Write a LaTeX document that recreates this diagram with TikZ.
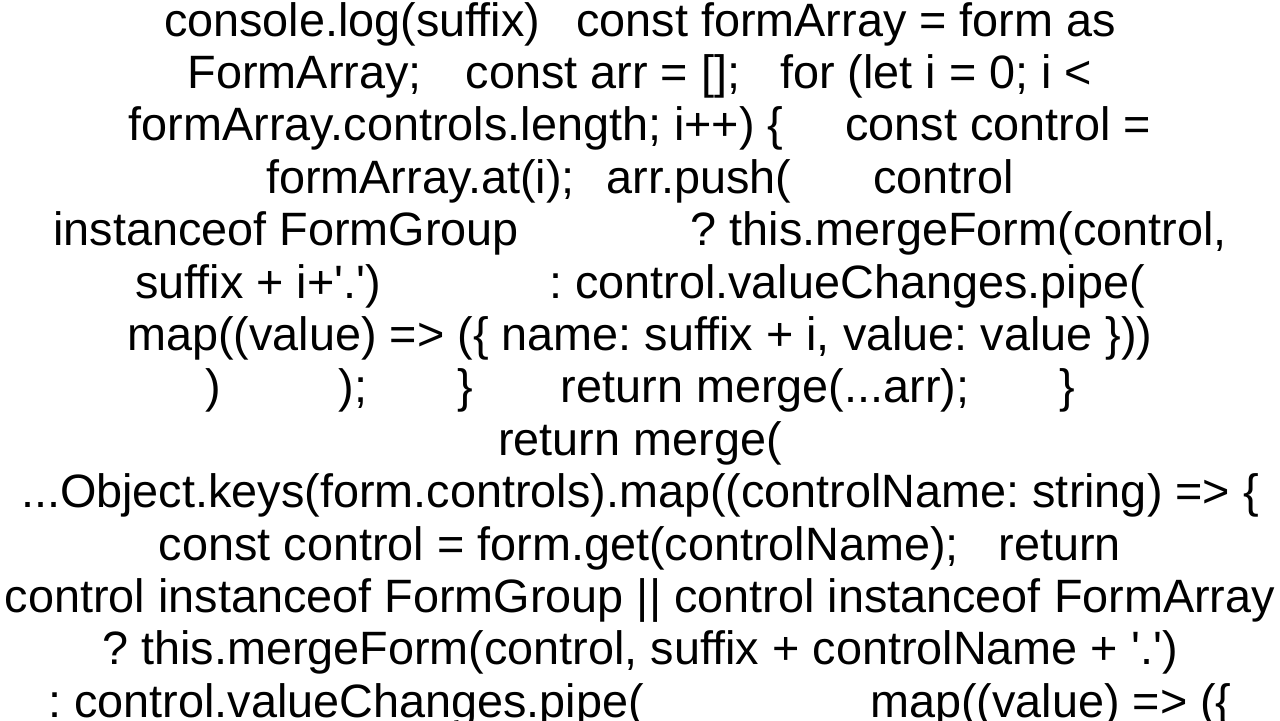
\documentclass[tikz,border=0pt]{standalone}
\usepackage{fontspec}
\setmainfont{Liberation Sans}
\usetikzlibrary{positioning}
\frenchspacing
\newcommand{\gap}[1]{\hspace*{#1pt}}
\newcommand{\q}{\textquotesingle}
\tikzset{
  codeline/.style={anchor=base, inner sep=0pt, font=\fontsize{23.4}{28}\selectfont},
}
\begin{document}
\begin{tikzpicture}
\useasboundingbox (0,0) rectangle (640pt,-360pt);
\node (l1) [codeline] at (320pt,-18pt) {console.log(suffix)\gap{18}const formArray = form as};
\node (l2) [codeline, below=26.2pt of l1.base, anchor=base] {FormArray;\gap{22}const arr = [];\gap{20}for (let i = 0; i <};
\node (l3) [codeline, below=26.2pt of l2.base, anchor=base] {formArray.controls.length; i++) \{\gap{31}const control =};
\node (l4) [codeline, below=26.2pt of l3.base, anchor=base] {formArray.at(i);\gap{16}arr.push(\gap{41}control};
\node (l5) [codeline, below=26.2pt of l4.base, anchor=base] {instanceof FormGroup\gap{86}? this.mergeForm(control,};
\node (l6) [codeline, below=26.2pt of l5.base, anchor=base] {suffix + i+\q.\q)\gap{84}: control.valueChanges.pipe(};
\node (l7) [codeline, below=26.2pt of l6.base, anchor=base] {map((value) => (\{ name: suffix + i, value: value \}))};
\node (l8) [codeline, below=26.2pt of l7.base, anchor=base] {)\gap{59});\gap{45}\}\gap{44}return merge(...arr);\gap{45}\}};
\node (l9) [codeline, below=26.2pt of l8.base, anchor=base] {return merge(};
\node (l10) [codeline, below=26.2pt of l9.base, anchor=base] {...Object.keys(form.controls).map((controlName: string) => \{};
\node (l11) [codeline, below=26.2pt of l10.base, anchor=base] {const control = form.get(controlName);\gap{20}return};
\node (l12) [codeline, below=26.2pt of l11.base, anchor=base] {control instanceof FormGroup || control instanceof FormArray};
\node (l13) [codeline, below=26.2pt of l12.base, anchor=base] {? this.mergeForm(control, suffix + controlName + \q.\q)};
\node (l14) [codeline, below=26.2pt of l13.base, anchor=base] {: control.valueChanges.pipe(\gap{113}map((value) => (\{};
\end{tikzpicture}
\end{document}
